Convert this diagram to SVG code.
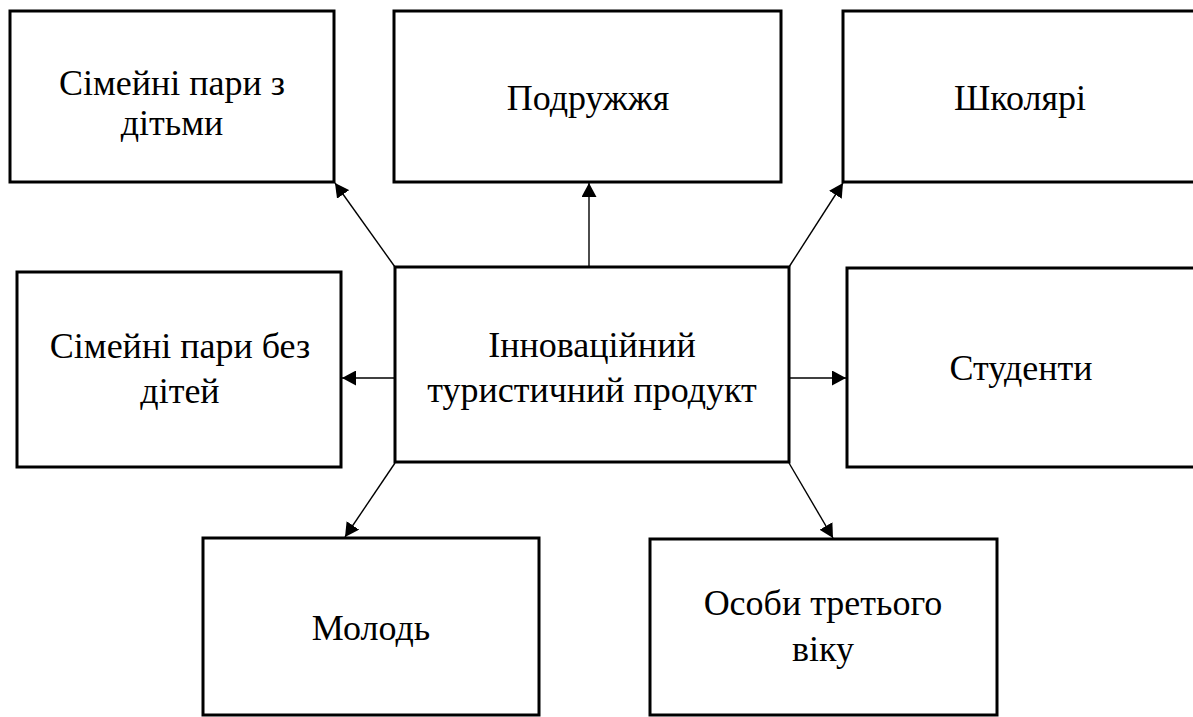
<svg xmlns="http://www.w3.org/2000/svg" width="1193" height="717" viewBox="0 0 1193 717">
<style>
.box{fill:#fff;stroke:#000;stroke-width:3}
.t{font-family:'Liberation Serif','DejaVu Serif',serif;font-size:36px;fill:#000;text-anchor:middle}
.c{stroke:#000;stroke-width:1.4;fill:none;marker-end:url(#ah)}
</style>
<defs>
<marker id="ah" markerUnits="userSpaceOnUse" markerWidth="15" markerHeight="15" refX="14" refY="7.5" orient="auto">
<path d="M0,0 L14,7.5 L0,15 z" fill="#000"/>
</marker>
</defs>
<rect width="1193" height="717" fill="#fff"/>
<g id="n1"><rect class="box" x="10" y="11" width="324" height="171"/><text class="t" x="172" y="95">Сімейні пари з</text><text class="t" x="172" y="135">дітьми</text></g>
<g id="n2"><rect class="box" x="394" y="11" width="387" height="171"/><text class="t" x="588" y="110">Подружжя</text></g>
<g id="n3"><rect class="box" x="843" y="11" width="360" height="171"/><text class="t" x="1020" y="110">Школярі</text></g>
<g id="n4"><rect class="box" x="17" y="272" width="324" height="195"/><text class="t" x="180" y="358">Сімейні пари без</text><text class="t" x="180" y="403">дітей</text></g>
<g id="center"><rect class="box" x="395" y="267" width="394" height="195"/><text class="t" x="592" y="357">Інноваційний</text><text class="t" x="592" y="402">туристичний продукт</text></g>
<g id="n5"><rect class="box" x="847" y="268" width="360" height="199"/><text class="t" x="1021" y="380">Студенти</text></g>
<g id="n6"><rect class="box" x="203" y="538" width="336" height="177"/><text class="t" x="371" y="640">Молодь</text></g>
<g id="n7"><rect class="box" x="650" y="539" width="347" height="176"/><text class="t" x="823" y="615">Особи третього</text><text class="t" x="823" y="661">віку</text></g>
<g id="connectors">
<line class="c" x1="395" y1="267" x2="335" y2="183"/>
<line class="c" x1="589" y1="267" x2="589" y2="183"/>
<line class="c" x1="789" y1="267" x2="843" y2="183"/>
<line class="c" x1="395" y1="378" x2="342" y2="378"/>
<line class="c" x1="789" y1="378" x2="846" y2="378"/>
<line class="c" x1="395" y1="463" x2="345" y2="537"/>
<line class="c" x1="789" y1="463" x2="833" y2="538"/>
</g>
</svg>
